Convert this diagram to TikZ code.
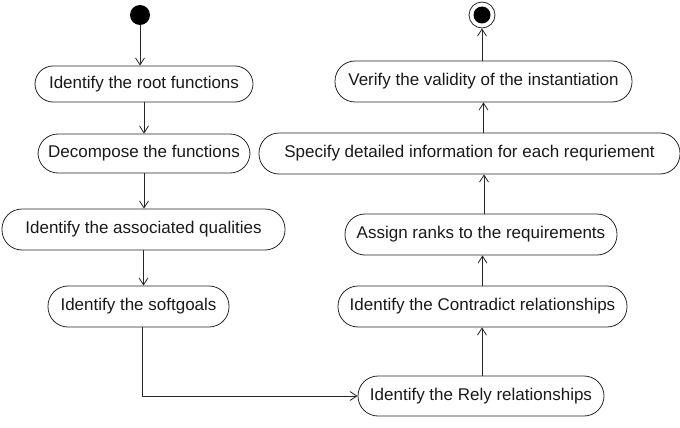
\documentclass[tikz,border=0pt]{standalone}
\usepackage{fontspec}
\setmainfont{Liberation Sans}
\usetikzlibrary{arrows.meta}
\begin{document}
\begin{tikzpicture}[x=1pt,y=-1pt,
  act/.style={draw=black!85, line width=0.8pt, rounded corners=20pt, inner sep=0pt,
    font=\fontsize{17}{20}\selectfont, text=black!90},
  flow/.style={draw=black!85, line width=0.8pt, -{Straight Barb[length=7pt,width=9pt]}}]
\useasboundingbox (0,0) rectangle (680,428);
\node[circle, fill=black, inner sep=0pt, minimum size=20pt] (start) at (140,15) {};
\node[circle, draw=black!85, line width=0.8pt, inner sep=0pt, minimum size=26pt] (endo) at (482,15) {};
\node[circle, fill=black, inner sep=0pt, minimum size=17pt] (endi) at (482,15) {};

\node[act, minimum width=218pt, minimum height=36pt, rounded corners=18pt] (root) at (144,84) {Identify the root functions};
\node[act, minimum width=212pt, minimum height=39pt] (decomp) at (144,153.5) {Decompose the functions};
\node[act, minimum width=283pt, minimum height=41pt] (qual) at (143.5,229.5) {Identify the associated qualities};
\node[act, minimum width=181pt, minimum height=41pt] (soft) at (138.5,306.5) {Identify the softgoals};
\node[act, minimum width=246pt, minimum height=40pt] (rely) at (481,396) {Identify the Rely relationships};
\node[act, minimum width=289pt, minimum height=41pt] (contra) at (482.5,306.5) {Identify the Contradict relationships};
\node[act, minimum width=272pt, minimum height=41pt] (assign) at (481,234.5) {Assign ranks to the requirements};
\node[act, minimum width=421pt, minimum height=41pt] (spec) at (469.5,153.5) {Specify detailed information for each requriement};
\node[act, minimum width=297pt, minimum height=41pt] (verify) at (483.5,81.5) {Verify the validity of the instantiation};

\draw[flow] (start) -- (start |- root.north);
\draw[flow] (root.south) -- (root.south |- decomp.north);
\draw[flow] (decomp.south) -- (decomp.south |- qual.north);
\draw[flow] (qual.south) -- (qual.south |- soft.north);
\draw[flow] ([xshift=3.5pt]soft.south) |- (rely.west);
\draw[flow] ([xshift=1pt]rely.north) -- ([xshift=1pt]rely.north |- contra.south);
\draw[flow] (contra.north) -- (contra.north |- assign.south);
\draw[flow] ([xshift=3pt]assign.north) -- ([xshift=3pt]assign.north |- spec.south);
\draw[flow] (verify.south |- spec.north) -- (verify.south);
\draw[flow] ([xshift=-1.5pt]verify.north) -- (endo.south);
\end{tikzpicture}
\end{document}
